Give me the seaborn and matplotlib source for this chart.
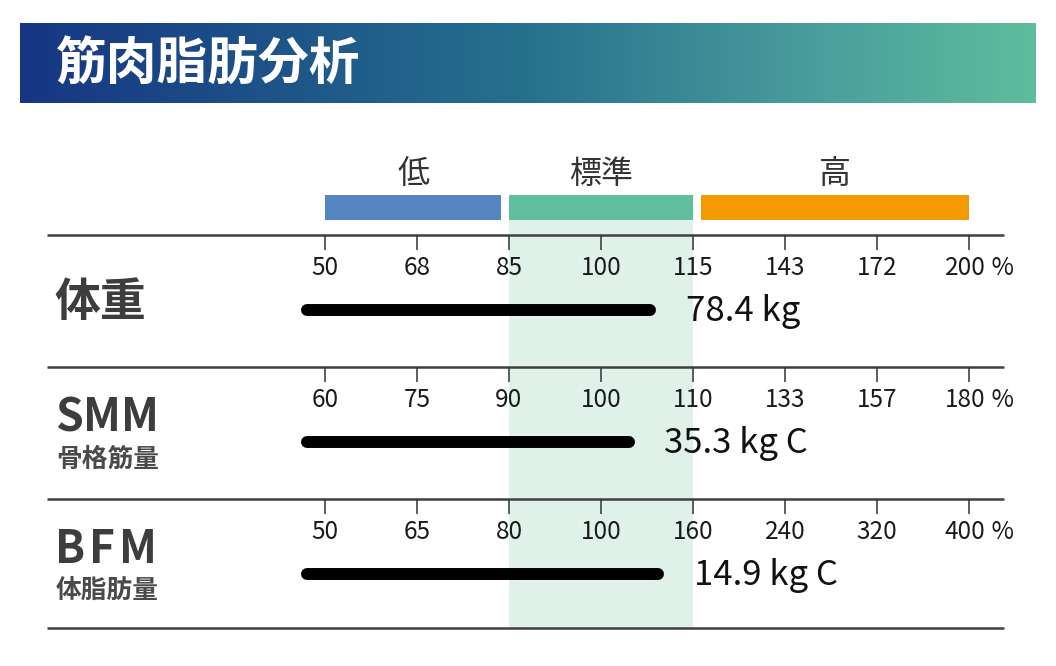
import numpy as np
import matplotlib
matplotlib.use('Agg')
import matplotlib.pyplot as plt
import seaborn as sns
from matplotlib.colors import LinearSegmentedColormap

# ---------------- data ----------------
title = '筋肉脂肪分析'
range_labels = ['低', '標準', '高']
range_colors = ['#5586c2', '#5fbf9e', '#f39a00']
categories = ['体重', 'SMM', 'BFM']
subtitles = ['', '骨格筋量', '体脂肪量']
weight_ticks = [50, 68, 85, 100, 115, 143, 172, 200]
smm_ticks = [60, 75, 90, 100, 110, 133, 157, 180]
bfm_ticks = [50, 65, 80, 100, 160, 240, 320, 400]
percent_values = [108, 103, 137]
value_labels = ['78.4 kg', '35.3 kg C', '14.9 kg C']
tick_sets = [weight_ticks, smm_ticks, bfm_ticks]

# ---------------- style ----------------
sns.set_theme(style='white')
plt.rcParams['font.family'] = ['Noto Sans CJK JP', 'DejaVu Sans']

W, H = 1056, 666
fig = plt.figure(figsize=(W / 100, H / 100), dpi=100)
fig.patch.set_facecolor('white')

# index scale: tick i sits at px0 + i*step (pixels)
px0, step = 325, 92.0
def X(px):
    return (px - px0) / step

ax = fig.add_axes([0, 0, 1, 1])
ax.set_xlim(X(0), X(W))
ax.set_ylim(H, 0)
ax.axis('off')

# ---------------- banner ----------------
bax = fig.add_axes([20 / W, 1 - 103 / H, 1016 / W, 80 / H])
cmap = LinearSegmentedColormap.from_list(
    'banner', [(0.0, '#163683'), (0.5, '#26718e'), (0.78, '#4a9d9c'), (1.0, '#5ebd9d')])
bax.imshow(np.linspace(0, 1, 512).reshape(1, -1), aspect='auto', cmap=cmap,
           extent=[0, 1, 0, 1])
bax.set_xlim(0, 1)
bax.set_ylim(0, 1)
bax.axis('off')
bax.text(36 / 1016, 0.47, title, color='white', fontsize=36.5, fontweight='bold',
         ha='left', va='center')

n_ticks = len(weight_ticks)
idx = np.arange(n_ticks)
gap = 0.087

# ---------------- range legend bars ----------------
range_spans = [(idx[0], idx[2] - gap), (idx[2], idx[4]), (idx[4] + gap, idx[-1])]
for lab, col, (a, b) in zip(range_labels, range_colors, range_spans):
    ax.barh(207.5, b - a, left=a, height=25, color=col, linewidth=0, zorder=3)
    ax.text((a + b) / 2, 174, lab, fontsize=23, color='#333333',
            ha='center', va='center')

# normal range shading
row_tops = [235, 367, 499]
bottom_line = 628
ax.fill_betweenx([220, bottom_line], idx[2], idx[4], color='#dff1e9',
                 linewidth=0, zorder=0)

# row separators
for y in row_tops + [bottom_line]:
    ax.plot([X(47), X(1004)], [y, y], color='#404040', lw=1.8,
            solid_capstyle='butt', zorder=4)

bar_start = X(307)
for top, name, sub, ticks, pct, vlab in zip(row_tops, categories, subtitles,
                                            tick_sets, percent_values, value_labels):
    # tick marks
    ax.vlines(idx, top, top + 15, color='#333333', lw=1.1, zorder=4)
    # tick labels
    for i, t in enumerate(ticks):
        txt = ax.text(idx[i] - (0.04 if i == n_ticks - 1 else 0), top + 33, str(t),
                      fontsize=17.5, color='#1a1a1a',
                      ha='center', va='center', zorder=5)
        if i == n_ticks - 1:
            ax.annotate(' %', xy=(1, 0.5), xycoords=txt, fontsize=17.5,
                        color='#1a1a1a', ha='left', va='center')
    # value bar
    end = np.interp(pct, ticks, idx)
    ybar = top + 74.5
    sns.lineplot(x=[bar_start, end], y=[ybar, ybar], color='black', linewidth=8.6,
                 solid_capstyle='round', ax=ax, zorder=6)
    ax.text(end + 0.39, ybar + 2, vlab, fontsize=25, color='#111111',
            ha='left', va='center', zorder=6)
    # row names
    if sub:
        # letter-spaced abbreviation
        prev = ax.text(X(55), top + 51, name[0], fontsize=32, fontweight='bold',
                       color='#3d3d3d', ha='left', va='center')
        spacing = 0.0 if name == 'SMM' else 2.8
        for ch in name[1:]:
            prev = ax.annotate(ch, xy=(1, 0.5), xycoords=prev,
                               xytext=(spacing, 0), textcoords='offset points',
                               fontsize=32, fontweight='bold', color='#3d3d3d',
                               ha='left', va='center')
        ax.text(X(56), top + 92, sub, fontsize=18.5, fontweight='bold',
                color='#4a4a4a', ha='left', va='center')
    else:
        ax.text(X(54), top + 68, name, fontsize=33, fontweight='bold',
                color='#3d3d3d', ha='left', va='center')

if ax.get_legend() is not None:
    ax.get_legend().remove()

fig.savefig('out.png', dpi=100, facecolor='white')
